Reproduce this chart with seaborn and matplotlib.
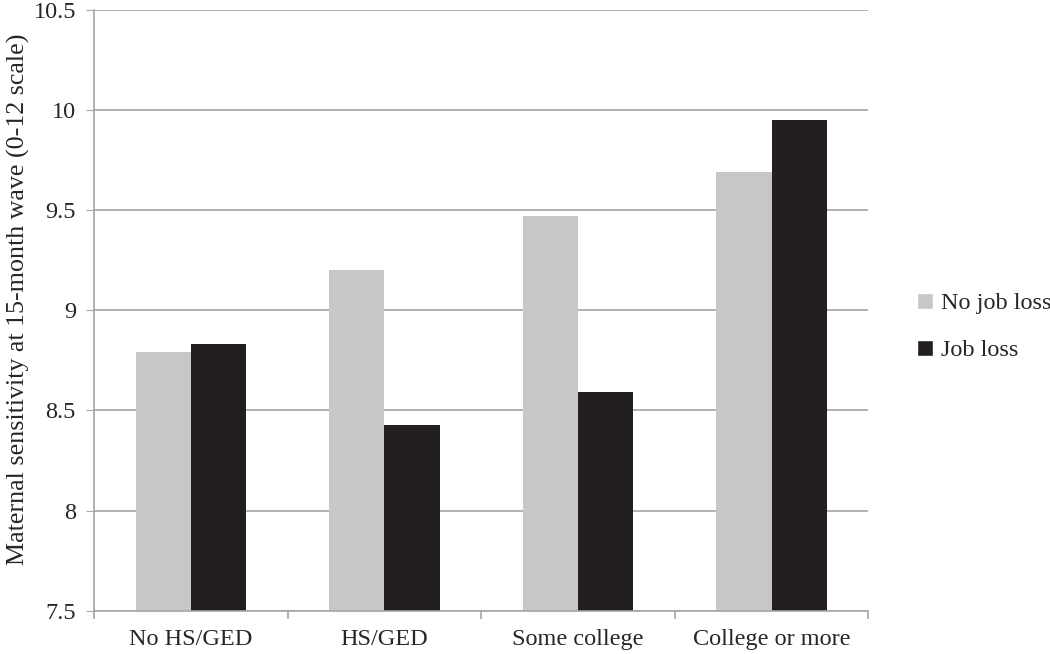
import seaborn as sns
import matplotlib.pyplot as plt
import pandas as pd
from matplotlib.patches import Patch

# values
categories = ['No HS/GED', 'HS/GED', 'Some college', 'College or more']
no_job_loss = [8.79, 9.20, 9.47, 9.69]
job_loss = [8.83, 8.43, 8.59, 9.95]
series = ['No job loss', 'Job loss']
colors = ['#c6c7c9', '#231f20']

data = pd.DataFrame({
    'education': categories * 2,
    'group': [series[0]] * 4 + [series[1]] * 4,
    'score': no_job_loss + job_loss,
})

sns.set_style('white')
plt.rcParams['font.family'] = ['Liberation Serif', 'DejaVu Serif']

fig = plt.figure(figsize=(10.5, 6.54), dpi=100)
ax = fig.add_axes([0.0895, 0.066, 0.7375, 0.919])

sns.barplot(data=data, x='education', y='score', hue='group',
            palette=colors, width=0.57, gap=0, ax=ax, legend=False,
            saturation=1, linewidth=0)

ax.set_ylim(7.5, 10.5)
ax.set_xlim(-0.5, 3.5)
ax.set_yticks([7.5, 8, 8.5, 9, 9.5, 10, 10.5])
ax.set_yticklabels(['7.5', '8', '8.5', '9', '9.5', '10', '10.5'])
ax.grid(axis='y', color='#a6a6a6', linewidth=1.2)
ax.set_axisbelow(True)

for s in ['top', 'right']:
    ax.spines[s].set_visible(False)
for s in ['left', 'bottom']:
    ax.spines[s].set_color('#a6a6a6')
    ax.spines[s].set_linewidth(1.2)

ax.tick_params(axis='y', which='major', left=True, length=6, color='#a6a6a6',
               labelsize=17.5, pad=7)
ax.tick_params(axis='x', which='major', length=0, labelsize=17.5, pad=13)
ax.set_xticks([-0.5, 0.5, 1.5, 2.5, 3.5], minor=True)
ax.tick_params(axis='x', which='minor', bottom=True, length=6,
               color='#a6a6a6', width=1.2)

ax.set_xlabel('')
ax.set_ylabel('Maternal sensitivity at 15-month wave (0-12 scale)',
              fontsize=18.7)
ax.yaxis.set_label_coords(-0.083, 0.519)

handles = [Patch(facecolor=c, label=l) for c, l in zip(colors, series)]
fig.legend(handles=handles, loc='center left', bbox_to_anchor=(0.864, 0.5),
           frameon=False, fontsize=17.5, handlelength=0.65, handleheight=0.65,
           handletextpad=0.35, labelspacing=1.05, borderaxespad=0)

fig.savefig('out.png', dpi=100)
